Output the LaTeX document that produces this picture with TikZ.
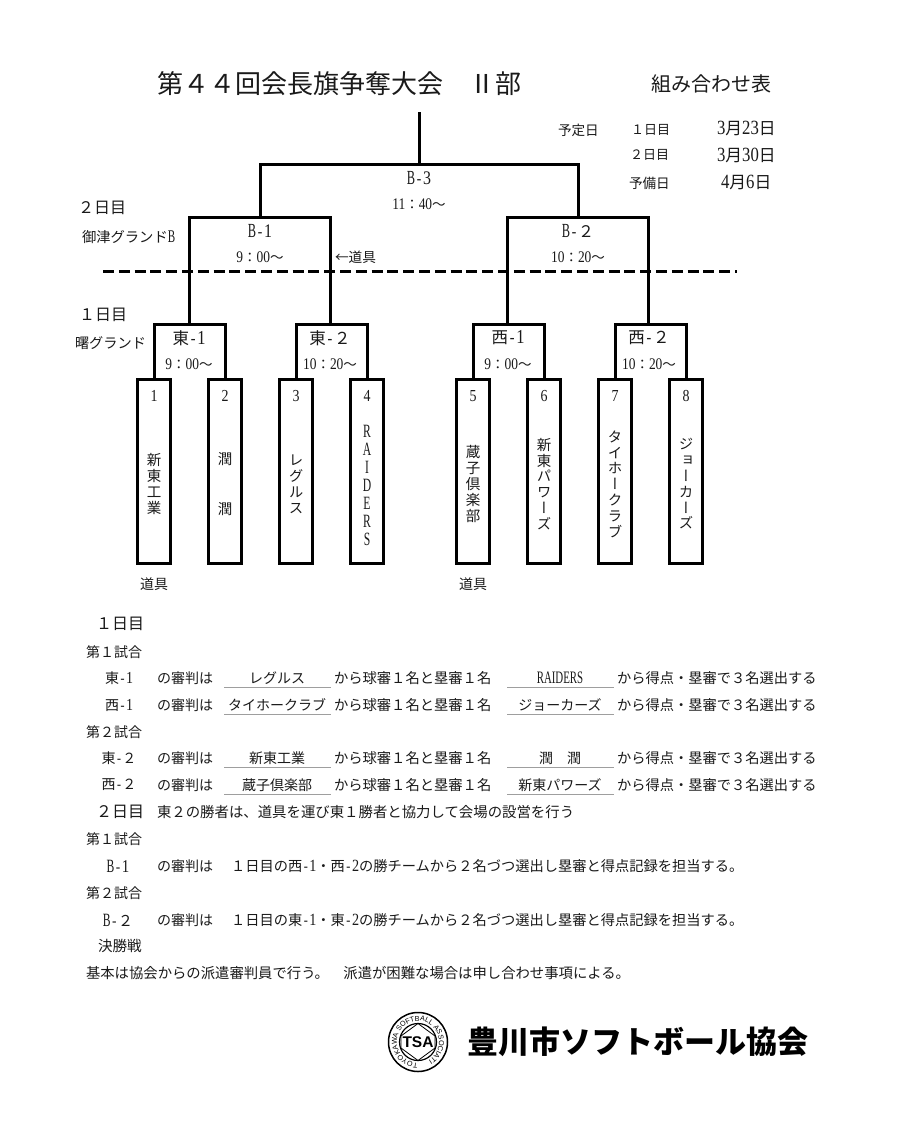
\documentclass[tikz,border=0pt]{standalone}
\usepackage{fontspec}
\usetikzlibrary{decorations.text}
\setmainfont{Noto Sans CJK JP}
\newfontfamily\cjkv[RawFeature=+vert]{Noto Sans CJK JP}
\newfontfamily\hd[Scale=1.2,FakeStretch=0.83]{Liberation Serif}
\newfontfamily\hl[Scale=1.25,FakeStretch=0.62]{Liberation Serif}
\newfontfamily\hm[FakeStretch=0.83]{Liberation Mono}
\newfontfamily\logofont{Liberation Sans}
\newcommand\Hy{{\hm -}}
\newcommand\Dg[1]{{\hd #1}}
\newcommand\Lt[1]{{\hl #1}}
\definecolor{ink}{HTML}{1A1A1A}
\tikzset{
  lab/.style={inner sep=0pt,outer sep=0pt,text=ink,anchor=west,font=\fontsize{#1}{#1}\selectfont},
  cen/.style={inner sep=0pt,outer sep=0pt,text=ink,anchor=center,font=\fontsize{#1}{#1}\selectfont},
  team/.style={draw=black,line width=3pt,minimum width=33.5pt,minimum height=184pt,inner sep=0pt,outer sep=0pt},
  vtext/.style={inner sep=0pt,outer sep=0pt,text=ink,align=center,font=\cjkv\fontsize{14.5}{#1}\selectfont},
  num/.style={inner sep=0pt,outer sep=0pt,text=ink,font=\hd\fontsize{14}{14}\selectfont},
  bracket/.style={draw=black,line width=3pt,line join=miter},
  rule/.style={draw=black!38,line width=1pt}
}
\begin{document}
\begin{tikzpicture}[x=1pt,y=-1pt]
\useasboundingbox (0,0) rectangle (900,1122);
\fill[white] (0,0) rectangle (900,1122);
% titles
\node[lab=26] (title) at (157,84) {第４４回会長旗争奪大会　Ⅱ部};
\node[lab=20] (sub) at (651,84) {組み合わせ表};
\node[lab=13.6] (sched) at (558,130) {予定日};
\node[lab=13] (d1) at (631,130) {１日目};
\node[lab=13] (d2) at (630,155) {２日目};
\node[lab=13.6] (d3) at (629,183) {予備日};
\node[lab=16.8] (da) at (717,129) {\Dg{3}月\Dg{23}日};
\node[lab=16.8] (db) at (717,155) {\Dg{3}月\Dg{30}日};
\node[lab=16.8] (dc) at (721,183) {\Dg{4}月\Dg{6}日};
% side labels
\node[lab=16] (s2) at (78,208) {２日目};
\node[lab=14.3] (sg2) at (82,237) {御津グランド\Lt{B}};
\node[lab=16] (s1) at (79,315) {１日目};
\node[lab=14.2] (sg1) at (75,343) {曙グランド};
\node[lab=13.7] (tool) at (335,257) {←道具};
% teams
\node[team] (t1) at (154,471) {};
\node[team] (t2) at (225,471) {};
\node[team] (t3) at (296,471) {};
\node[team] (t4) at (367,471) {};
\node[team] (t5) at (473,471) {};
\node[team] (t6) at (544,471) {};
\node[team] (t7) at (615,471) {};
\node[team] (t8) at (686,471) {};
\foreach \i/\x in {1/154,2/225,3/296,4/367,5/473,6/544,7/615,8/686}
  \node[num] (n\i) at (\x,396) {\i};
\node[vtext=16] (l1) at (154,484) {新\\東\\工\\業};
\node[vtext=16.4] (l2) at (225,484) {潤\\　\\　\\潤};
\node[vtext=16] (l3) at (296,484) {レ\\グ\\ル\\ス};
\node[inner sep=0pt,text=ink,align=center,font=\hl\fontsize{15}{18}\selectfont] (l4) at (367,485) {R\\A\\I\\D\\E\\R\\S};
\node[vtext=16] (l5) at (473,484) {蔵\\子\\倶\\楽\\部};
\node[vtext=15.8] (l6) at (544,484) {新\\東\\パ\\ワ\\ー\\ズ};
\node[vtext=15.8] (l7) at (615,484) {タ\\イ\\ホ\\ー\\ク\\ラ\\ブ};
\node[vtext=15.8] (l8) at (686,484) {ジ\\ョ\\ー\\カ\\ー\\ズ};
\node[cen=14] (g1) at (154,584) {道具};
\node[cen=14] (g2) at (473,584) {道具};
% bracket
\coordinate (e1) at (189.5,324.5);
\coordinate (e2) at (330.5,324.5);
\coordinate (w1) at (507.5,324.5);
\coordinate (w2) at (648.5,324.5);
\coordinate (b1) at (260,217);
\coordinate (b2) at (578,217);
\coordinate (b3) at (419,164.5);
\coordinate (top) at (419,112);
\coordinate (dl) at (103,271);
\coordinate (dr) at (737,271);
\draw[bracket] (t1.north) |- (e1) -| (t2.north);
\draw[bracket] (t3.north) |- (e2) -| (t4.north);
\draw[bracket] (t5.north) |- (w1) -| (t6.north);
\draw[bracket] (t7.north) |- (w2) -| (t8.north);
\draw[bracket] (e1) |- (b1) -| (e2);
\draw[bracket] (w1) |- (b2) -| (w2);
\draw[bracket] (b1) |- (b3) -| (b2);
\draw[bracket] (b3) -- (top);
\draw[black,line width=3pt,dash pattern=on 11pt off 4.8pt] (dl) -- (dr);
% match labels
\node[cen=16] (mb3) at (419,178) {\Lt{B}\Hy\Dg{3}};
\node[cen=13.5] (tb3) at (419,204) {\Dg{11}：\Dg{40}～};
\node[cen=16] (mb1) at (260,231) {\Lt{B}\Hy\Dg{1}};
\node[cen=13.5] (tb1) at (260,257) {\Dg{9}：\Dg{00}～};
\node[cen=16] (mb2) at (578,231) {\Lt{B}\Hy ２};
\node[cen=13.5] (tb2) at (578,257) {\Dg{10}：\Dg{20}～};
\node[cen=16.5] (me1) at (189,338) {東\Hy\Dg{1}};
\node[cen=13.5] (te1) at (189,364) {\Dg{9}：\Dg{00}～};
\node[cen=16.5] (me2) at (330,338) {東\Hy ２};
\node[cen=13.5] (te2) at (330,364) {\Dg{10}：\Dg{20}～};
\node[cen=16.5] (mw1) at (508,338) {西\Hy\Dg{1}};
\node[cen=13.5] (tw1) at (508,364) {\Dg{9}：\Dg{00}～};
\node[cen=16.5] (mw2) at (649,338) {西\Hy ２};
\node[cen=13.5] (tw2) at (649,364) {\Dg{10}：\Dg{20}～};
% day 1 text
\node[lab=16] (h1) at (96,624) {１日目};
\node[lab=14] (h11) at (86,652) {第１試合};
\node[lab=14] (h12) at (86,732) {第２試合};
\newcommand\refrow[6]{%
  \node[cen=14] (r#1a) at (119,#2) {#3};
  \node[lab=14] (r#1b) at (157,#2) {の審判は};
  \coordinate (r#1l) at (224,#2+9.5);
  \coordinate (r#1m) at (331,#2+9.5);
  \draw[rule] (r#1l) -- (r#1m);
  \node[cen=14] (r#1c) at (277,#2) {#4};
  \node[lab=14.3] (r#1d) at (334,#2) {から球審１名と塁審１名};
  \coordinate (r#1n) at (507,#2+9.5);
  \coordinate (r#1o) at (614,#2+9.5);
  \draw[rule] (r#1n) -- (r#1o);
  \node[cen=14] (r#1e) at (560,#2) {#5};
  \node[lab=14.25] (r#1f) at (617,#2) {から得点・塁審で３名選出する};
}
\refrow{1}{678}{東\Hy\Dg{1}}{レグルス}{\Lt{RAIDERS}}{}{}
\refrow{2}{705}{西\Hy\Dg{1}}{タイホークラブ}{ジョーカーズ}{}{}
\refrow{3}{758}{東\Hy ２}{新東工業}{潤　潤}{}{}
\refrow{4}{785}{西\Hy ２}{蔵子倶楽部}{新東パワーズ}{}{}
% day 2 text
\node[lab=16] (h2) at (96,812) {２日目};
\node[lab=14.4] (h2t) at (157,812) {東２の勝者は、道具を運び東１勝者と協力して会場の設営を行う};
\node[lab=14] (h21) at (86,839) {第１試合};
\node[cen=15] (q1a) at (118,866) {\Lt{B}\Hy\Dg{1}};
\node[lab=14] (q1b) at (157,866) {の審判は};
\node[lab=14.25] (q1c) at (231,866) {１日目の西\Hy\Dg{1}・西\Hy\Dg{2}の勝チームから２名づつ選出し塁審と得点記録を担当する。};
\node[lab=14] (h22) at (86,893) {第２試合};
\node[cen=15] (q2a) at (118,920) {\Lt{B}\Hy ２};
\node[lab=14] (q2b) at (157,920) {の審判は};
\node[lab=14.25] (q2c) at (231,920) {１日目の東\Hy\Dg{1}・東\Hy\Dg{2}の勝チームから２名づつ選出し塁審と得点記録を担当する。};
\node[lab=14.6] (h23) at (98,946) {決勝戦};
\node[lab=14.35] (foot) at (86,973) {基本は協会からの派遣審判員で行う。　派遣が困難な場合は申し合わせ事項による。};
% logo
\coordinate (lc) at (418,1042);
\draw[black,line width=1.5pt] (lc) circle[radius=29.5pt];
\draw[black,line width=1.2pt] (lc) circle[radius=18.5pt];
\draw[black,line width=0.8pt] (418,1023.5) -- (435,1036) -- (435,1048) -- (418,1060.5) -- (401,1048) -- (401,1036) -- cycle;
\path[postaction={decorate},decoration={text along path,text align=center,
   text={|\logofont\fontsize{7.2}{7.2}\selectfont|TOYOKAWA SOFTBALL ASSOCIATION}}]
   (lc) ++(240:21pt) arc[start angle=240,end angle=-60,radius=21pt];
\node[inner sep=0.5pt,fill=white,text=black,font=\logofont\bfseries\fontsize{15.5}{15.5}\selectfont] (tsa) at (418,1042) {TSA};
\node[inner sep=0pt,anchor=west,text=black,font=\bfseries\fontsize{31}{31}\selectfont] (org) at (467,1042) {豊川市ソフトボール協会};
\end{tikzpicture}
\end{document}
